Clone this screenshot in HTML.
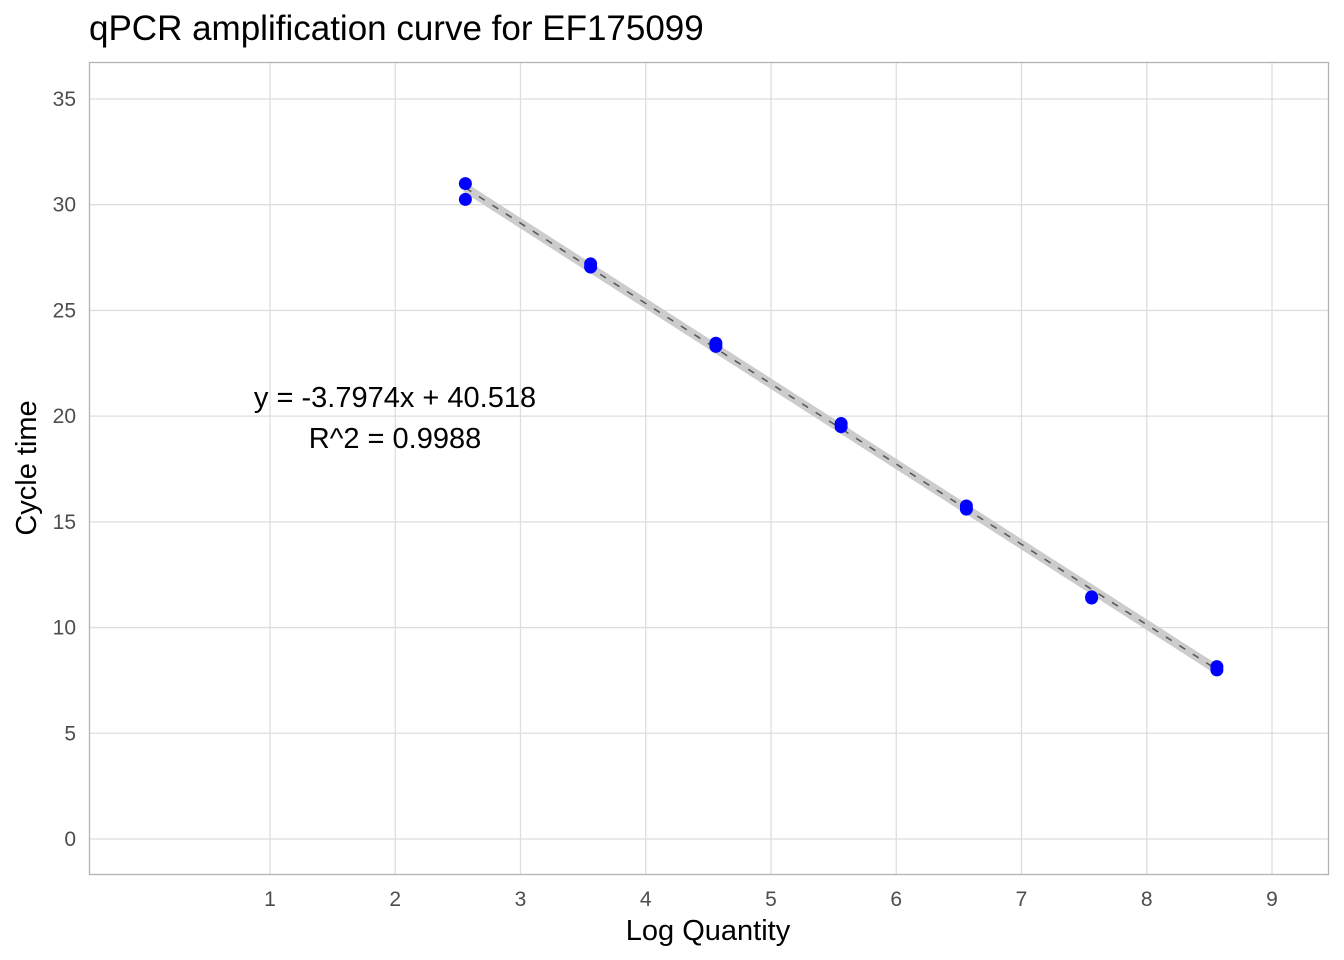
<!DOCTYPE html>
<html><head><meta charset="utf-8"><style>
body{margin:0;background:#fff;}
svg{display:block;font-family:"Liberation Sans",sans-serif;}
</style></head><body>
<svg id="chart" width="1344" height="960">
<text x="89" y="40" font-size="35" fill="#000">qPCR amplification curve for EF175099</text>
<g id="grid"></g>
<rect x="89.5" y="62.5" width="1239" height="812" fill="none" stroke="#b3b3b3" stroke-width="1.3"/>
<g id="marks"></g>
<text x="395" y="407" font-size="29" text-anchor="middle" fill="#000">y = -3.7974x + 40.518</text>
<text x="395" y="448" font-size="29" text-anchor="middle" fill="#000">R^2 = 0.9988</text>
<text x="708" y="940" font-size="29" text-anchor="middle" fill="#000">Log Quantity</text>
<text transform="translate(36,468) rotate(-90)" font-size="29" text-anchor="middle" fill="#000">Cycle time</text>
</svg>
<script>
const xTicks=[1,2,3,4,5,6,7,8,9];
const yTicks=[0,5,10,15,20,25,30,35];
const logQty=[2.56,2.56,3.56,3.56,4.56,4.56,5.56,5.56,6.56,6.56,7.56,7.56,8.56,8.56];
const cycleTime=[31.0,30.25,27.2,27.05,23.45,23.3,19.65,19.5,15.75,15.6,11.45,11.4,8.15,8.0];
const slope=-3.7974, intercept=40.518;
const NS="http://www.w3.org/2000/svg";
const X=v=>270+(v-1)*125.25;
const Y=v=>839-v*21.143;
function mk(tag,attrs,parent){const e=document.createElementNS(NS,tag);for(const k in attrs)e.setAttribute(k,attrs[k]);parent.appendChild(e);return e;}
const grid=document.getElementById('grid'), marks=document.getElementById('marks');
xTicks.forEach(t=>{
 const l=mk('line',{x1:X(t),x2:X(t),y1:62,y2:874,stroke:'#dedede','stroke-width':1.3},grid);
 
 
 const tx=mk('text',{x:X(t),y:906,'font-size':21,'text-anchor':'middle',fill:'#4d4d4d'},grid);
 tx.textContent=t;
 
 
});
yTicks.forEach(t=>{
 const l=mk('line',{x1:89,x2:1328,y1:Y(t),y2:Y(t),stroke:'#dedede','stroke-width':1.3},grid);
 
 
 const tx=mk('text',{x:76,y:Y(t)+7,'font-size':21,'text-anchor':'end',fill:'#4d4d4d'},grid);
 tx.textContent=t;
 
 
});
const x0=Math.min(...logQty), x1=Math.max(...logQty);
const rib=mk('line',{x1:X(x0),y1:Y(slope*x0+intercept),x2:X(x1),y2:Y(slope*x1+intercept),stroke:'#cccccc','stroke-width':9},marks);


const fit=mk('line',{x1:X(x0),y1:Y(slope*x0+intercept),x2:X(x1),y2:Y(slope*x1+intercept),stroke:'#555','stroke-width':1.5,'stroke-dasharray':'7 9'},marks);


logQty.forEach((v,i)=>{
 const c=mk('circle',{cx:X(v),cy:Y(cycleTime[i]),r:6.5,fill:'#0000ff'},marks);
 
 
});
</script>
</body></html>
